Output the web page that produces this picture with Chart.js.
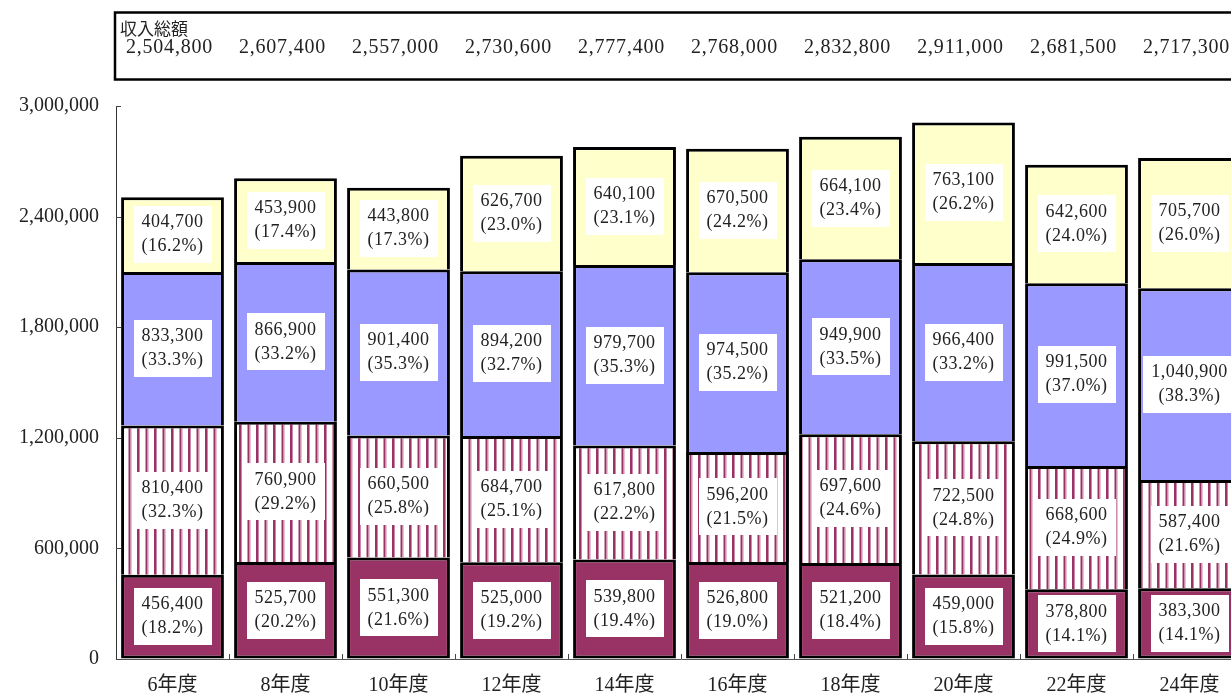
<!DOCTYPE html>
<html lang="ja">
<head>
<meta charset="utf-8">
<title>収入総額の推移</title>
<script src="https://cdn.jsdelivr.net/npm/chart.js@4/dist/chart.umd.min.js"></script>
<style>
    html, body { margin: 0; padding: 0; background: #fff; overflow: hidden; }
    #wrap { width: 1231px; height: 695px; overflow: hidden; }
    canvas { display: block; }
</style>
</head>
<body>
<div id="wrap"><canvas id="incomeChart" width="1250" height="695"></canvas></div>
<script>
const years = ["6年度", "8年度", "10年度", "12年度", "14年度", "16年度", "18年度", "20年度", "22年度", "24年度"];

const maroonValues = [456400, 525700, 551300, 525000, 539800, 526800, 521200, 459000, 378800, 383300];
const maroonPct = ["18.2", "20.2", "21.6", "19.2", "19.4", "19.0", "18.4", "15.8", "14.1", "14.1"];

const stripeValues = [810400, 760900, 660500, 684700, 617800, 596200, 697600, 722500, 668600, 587400];
const stripePct = ["32.3", "29.2", "25.8", "25.1", "22.2", "21.5", "24.6", "24.8", "24.9", "21.6"];

const blueValues = [833300, 866900, 901400, 894200, 979700, 974500, 949900, 966400, 991500, 1040900];
const bluePct = ["33.3", "33.2", "35.3", "32.7", "35.3", "35.2", "33.5", "33.2", "37.0", "38.3"];

const yellowValues = [404700, 453900, 443800, 626700, 640100, 670500, 664100, 763100, 642600, 705700];
const yellowPct = ["16.2", "17.4", "17.3", "23.0", "23.1", "24.2", "23.4", "26.2", "24.0", "26.0"];

const totals = [2504800, 2607400, 2557000, 2730600, 2777400, 2768000, 2832800, 2911000, 2681500, 2717300];
const yTicks = [0, 600000, 1200000, 1800000, 2400000, 3000000];

const numFont = '"Liberation Serif", "Noto Sans CJK JP", serif';
const fmt = v => v.toLocaleString("en-US");

const canvas = document.getElementById("incomeChart");
const ctx = canvas.getContext("2d");

function makeStripePattern() {
    const c = document.createElement("canvas");
    c.width = 17;
    c.height = 4;
    const p = c.getContext("2d");
    p.fillStyle = "#ffffff";
    p.fillRect(0, 0, 17, 4);
    p.fillStyle = "#993366";
    p.fillRect(1, 0, 2, 4);
    p.fillRect(9.5, 0, 2, 4);
    p.fillStyle = "#cc88aa";
    p.fillRect(3, 0, 1, 4);
    p.fillRect(11.5, 0, 1, 4);
    return ctx.createPattern(c, "repeat");
}

const pctLists = [maroonPct, stripePct, bluePct, yellowPct];

// white boxes with value + percentage in the middle of each segment
const segmentLabels = {
    id: "segmentLabels",
    afterDatasetsDraw(chart) {
        const c = chart.ctx;
        c.save();
        c.font = "18px " + numFont;
        c.letterSpacing = "0.5px";
        c.textAlign = "center";
        c.textBaseline = "middle";
        chart.data.datasets.forEach((ds, di) => {
            const meta = chart.getDatasetMeta(di);
            meta.data.forEach((bar, i) => {
                const line1 = fmt(ds.data[i]);
                const line2 = "(" + pctLists[di][i] + "%)";
                const w = Math.max(c.measureText(line1).width, c.measureText(line2).width) + 16;
                const h = 57;
                const mid = (bar.y + bar.base) / 2;
                c.fillStyle = "#ffffff";
                c.fillRect(Math.round(bar.x - w / 2), Math.round(mid - h / 2), Math.round(w), h);
                c.fillStyle = "#222";
                c.fillText(line1, bar.x, mid - 12);
                c.fillText(line2, bar.x, mid + 12);
            });
        });
        c.restore();
    }
};

// totals box at the top + small inward tick marks
const extras = {
    id: "extras",
    afterDraw(chart) {
        const c = chart.ctx;
        const x = chart.scales.x;
        const y = chart.scales.y;
        const area = chart.chartArea;
        c.save();
        c.strokeStyle = "#000";
        c.lineWidth = 2.5;
        c.strokeRect(115, 12.5, 1135, 67);

        c.fillStyle = "#222";
        c.font = '17px "Noto Sans CJK JP", sans-serif';
        c.textAlign = "left";
        c.textBaseline = "middle";
        c.fillText("収入総額", 120, 29);

        c.font = "20px " + numFont;
        c.letterSpacing = "0.8px";
        c.textAlign = "center";
        totals.forEach((t, i) => {
            c.fillText(fmt(t), x.getPixelForValue(i) - 3, 48);
        });
        c.letterSpacing = "0px";

        c.strokeStyle = "#444";
        c.lineWidth = 1;
        yTicks.forEach(v => {
            const py = Math.round(y.getPixelForValue(v)) + 0.5;
            c.beginPath();
            c.moveTo(area.left, py);
            c.lineTo(area.left + 5, py);
            c.stroke();
        });
        for (let i = 1; i < years.length; i++) {
            const px = Math.round((x.getPixelForValue(i - 1) + x.getPixelForValue(i)) / 2) + 0.5;
            c.beginPath();
            c.moveTo(px, area.bottom);
            c.lineTo(px, area.bottom - 5);
            c.stroke();
        }
        c.restore();
    }
};

const upperBorder = { top: 3, left: 3, right: 3, bottom: 0 };

new Chart(ctx, {
    type: "bar",
    data: {
        labels: years,
        datasets: [
            {
                label: "maroon",
                data: maroonValues,
                backgroundColor: "#993366",
                borderColor: "#000",
                borderWidth: { top: 3, left: 3, right: 3, bottom: 3 },
                borderSkipped: false
            },
            {
                label: "stripe",
                data: stripeValues,
                backgroundColor: makeStripePattern(),
                borderColor: "#000",
                borderWidth: upperBorder,
                borderSkipped: false
            },
            {
                label: "blue",
                data: blueValues,
                backgroundColor: "#9999ff",
                borderColor: "#000",
                borderWidth: upperBorder,
                borderSkipped: false
            },
            {
                label: "yellow",
                data: yellowValues,
                backgroundColor: "#ffffcc",
                borderColor: "#000",
                borderWidth: upperBorder,
                borderSkipped: false
            }
        ]
    },
    options: {
        responsive: false,
        animation: false,
        devicePixelRatio: 1,
        layout: { padding: { top: 106, right: 4, left: 0, bottom: 0 } },
        datasets: {
            bar: { categoryPercentage: 1.0, barPercentage: 0.91 }
        },
        plugins: {
            legend: { display: false },
            tooltip: { enabled: false }
        },
        scales: {
            x: {
                stacked: true,
                grid: { drawOnChartArea: false, drawTicks: false },
                border: { display: true, color: "#555", width: 1 },
                ticks: {
                    color: "#222",
                    padding: 15,
                    font: { family: numFont, size: 20 }
                },
                afterFit(scale) { scale.height = 36; }
            },
            y: {
                stacked: true,
                min: 0,
                max: 3000000,
                grid: { drawOnChartArea: false, drawTicks: false },
                border: { display: true, color: "#333", width: 1 },
                afterBuildTicks(scale) { scale.ticks = yTicks.map(v => ({ value: v })); },
                ticks: {
                    color: "#222",
                    padding: 17,
                    font: { family: numFont, size: 20 },
                    callback: v => fmt(v)
                },
                afterFit(scale) { scale.width = 116; }
            }
        }
    },
    plugins: [segmentLabels, extras]
});
</script>
</body>
</html>
